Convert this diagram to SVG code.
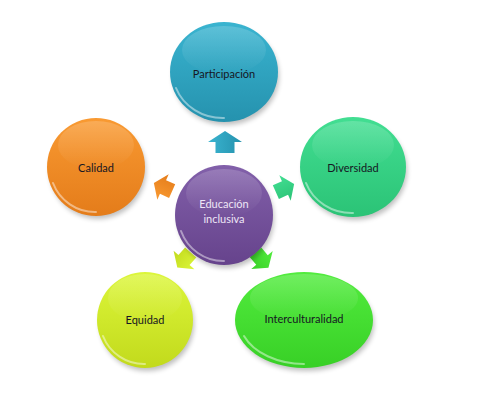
<svg xmlns="http://www.w3.org/2000/svg" width="477" height="405" viewBox="0 0 477 405">
<style>
.lbl{font-family:Lato,"Liberation Sans",sans-serif;font-size:11px;fill:#161623;text-anchor:middle;dominant-baseline:central}
.lbl-c{fill:#eee6f6}
.shadow{fill:#000;opacity:0.25;filter:url(#blur)}
.rim{fill:none;stroke:#fff;stroke-width:2;opacity:0.45;stroke-linecap:round}
.gloss{fill:url(#gloss)}
</style>
<defs>
<filter id="blur" x="-20%" y="-20%" width="140%" height="140%"><feGaussianBlur stdDeviation="2.5"/></filter>
<linearGradient id="gloss" x1="0" y1="0" x2="0" y2="1">
<stop offset="0" stop-color="#fff" stop-opacity="0.18"/>
<stop offset="1" stop-color="#fff" stop-opacity="0"/>
</linearGradient>
<linearGradient id="gBlue" x1="0" y1="0" x2="0" y2="1"><stop offset="0" stop-color="#3ab4d0"/><stop offset="1" stop-color="#2592ae"/></linearGradient>
<linearGradient id="gOrange" x1="0" y1="0" x2="0" y2="1"><stop offset="0" stop-color="#f99a32"/><stop offset="1" stop-color="#e47c1a"/></linearGradient>
<linearGradient id="gTeal" x1="0" y1="0" x2="0" y2="1"><stop offset="0" stop-color="#42de92"/><stop offset="1" stop-color="#2bc376"/></linearGradient>
<linearGradient id="gPurple" x1="0" y1="0" x2="0" y2="1"><stop offset="0" stop-color="#8260aa"/><stop offset="1" stop-color="#66438c"/></linearGradient>
<linearGradient id="gYellow" x1="0" y1="0" x2="0" y2="1"><stop offset="0" stop-color="#dcf63a"/><stop offset="1" stop-color="#c2da1c"/></linearGradient>
<linearGradient id="gGreen" x1="0" y1="0" x2="0" y2="1"><stop offset="0" stop-color="#52ec3e"/><stop offset="1" stop-color="#38d026"/></linearGradient>
<path id="arrowBig" d="M11,0 L0,-17 L0,-9.5 L-11,-9.5 L-11,9.5 L0,9.5 L0,17 Z"/>
<path id="arrowSmall" d="M10,0 L0,-14 L0,-7.5 L-10,-7.5 L-10,7.5 L0,7.5 L0,14 Z"/>
</defs>
<rect width="477" height="405" fill="#fff"/>

<g id="connectors">
<use href="#arrowBig" transform="translate(225,142) rotate(-90)" fill="url(#gBlue)"/>
<use href="#arrowSmall" transform="translate(163,187) rotate(204)" fill="url(#gOrange)"/>
<use href="#arrowSmall" transform="translate(285,188) rotate(-24)" fill="url(#gTeal)"/>
<use href="#arrowSmall" transform="translate(184,260) rotate(132)" fill="url(#gYellow)"/>
<use href="#arrowSmall" transform="translate(262,260) rotate(50)" fill="url(#gGreen)"/>
</g>

<g id="node-participacion">
<ellipse class="shadow" cx="226" cy="76" rx="53" ry="49"/>
<ellipse cx="224" cy="72" rx="54" ry="50" fill="url(#gBlue)"/>
<ellipse class="gloss" cx="224" cy="50" rx="42" ry="24"/>
<path class="rim" d="M176,88 A50,46 0 0 0 224,118"/>
<text class="lbl" x="224" y="73">Participación</text>
</g>

<g id="node-calidad">
<ellipse class="shadow" cx="98" cy="171" rx="48" ry="48"/>
<ellipse cx="96" cy="167" rx="49" ry="49" fill="url(#gOrange)"/>
<ellipse class="gloss" cx="96" cy="145" rx="38" ry="24"/>
<path class="rim" d="M53,183 A45,45 0 0 0 96,212"/>
<text class="lbl" x="96" y="167">Calidad</text>
</g>

<g id="node-diversidad">
<ellipse class="shadow" cx="355" cy="171" rx="52" ry="49"/>
<ellipse cx="353" cy="167" rx="53" ry="50" fill="url(#gTeal)"/>
<ellipse class="gloss" cx="353" cy="145" rx="41" ry="24"/>
<path class="rim" d="M306,183 A49,46 0 0 0 353,213"/>
<text class="lbl" x="353" y="167">Diversidad</text>
</g>

<g id="node-educacion">
<ellipse class="shadow" cx="226" cy="219" rx="48" ry="49"/>
<ellipse cx="224" cy="215" rx="49" ry="50" fill="url(#gPurple)"/>
<ellipse class="gloss" cx="224" cy="193" rx="38" ry="24"/>
<path class="rim" d="M181,231 A45,46 0 0 0 224,261"/>
<text class="lbl lbl-c" x="224" y="203">Educación</text>
<text class="lbl lbl-c" x="224" y="218">inclusiva</text>
</g>

<g id="node-equidad">
<ellipse class="shadow" cx="147" cy="324" rx="47" ry="47"/>
<ellipse cx="145" cy="320" rx="48" ry="48" fill="url(#gYellow)"/>
<ellipse class="gloss" cx="145" cy="298" rx="37" ry="24"/>
<path class="rim" d="M103,336 A44,44 0 0 0 145,364"/>
<text class="lbl" x="145" y="319">Equidad</text>
</g>

<g id="node-interculturalidad">
<ellipse class="shadow" cx="306" cy="324" rx="68" ry="47"/>
<ellipse cx="304" cy="320" rx="69" ry="48" fill="url(#gGreen)"/>
<ellipse class="gloss" cx="304" cy="298" rx="54" ry="24"/>
<path class="rim" d="M244,336 A65,44 0 0 0 304,364"/>
<text class="lbl" x="304" y="318">Interculturalidad</text>
</g>
</svg>
